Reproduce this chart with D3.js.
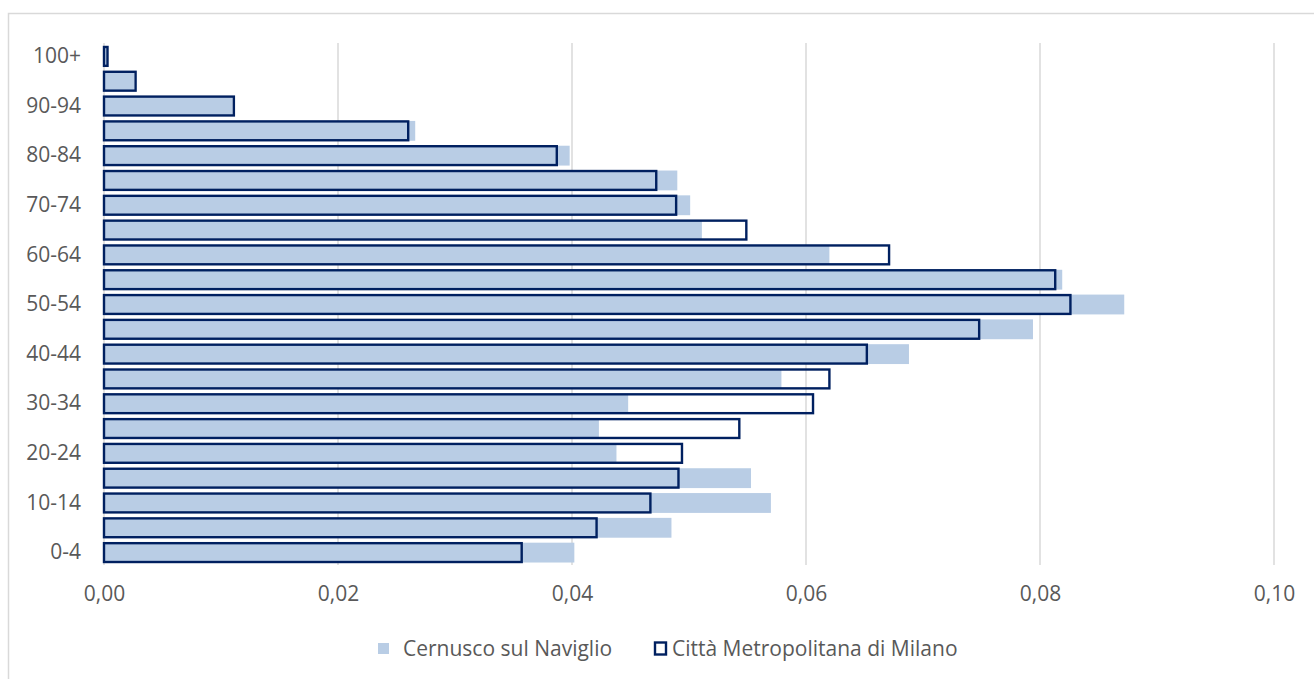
<!DOCTYPE html>
<html>
<head>
<meta charset="utf-8">
<script src="https://cdn.jsdelivr.net/npm/d3@7"></script>
<style>
  html, body { margin: 0; padding: 0; background: #fff; }
  svg { display: block; }
  text { font-family: "Open Sans", sans-serif; fill: #595959; }
</style>
</head>
<body>
<svg id="chart" width="1314" height="679"></svg>
<script>
const categories = ["0-4","5-9","10-14","15-19","20-24","25-29","30-34","35-39","40-44","45-49","50-54","55-59","60-64","65-69","70-74","75-79","80-84","85-89","90-94","95-99","100+"];
const cernusco = [0.0402,0.0485,0.0570,0.0553,0.0438,0.0423,0.0448,0.0579,0.0688,0.0794,0.0872,0.0819,0.0620,0.0511,0.0501,0.0490,0.0398,0.0266,0.0110,0.0026,0.0003];
const milano   = [0.0357,0.0421,0.0467,0.0491,0.0494,0.0543,0.0606,0.0620,0.0652,0.0748,0.0826,0.0813,0.0671,0.0549,0.0489,0.0472,0.0387,0.0260,0.0111,0.0027,0.0003];
const xTicks = [0, 0.02, 0.04, 0.06, 0.08, 0.10];
const seriesNames = ["Cernusco sul Naviglio", "Città Metropolitana di Milano"];

const svg = d3.select("#chart");
const fillColor = "#B9CDE5", strokeColor = "#002060", gridColor = "#D9D9D9";
const fs = "21px";

// outer border
svg.append("rect").attr("x", 8.5).attr("y", 13.5).attr("width", 1310).attr("height", 680)
  .attr("fill", "none").attr("stroke", gridColor).attr("stroke-width", 1.5);

const x = d3.scaleLinear().domain([0, 0.10]).range([104, 1274]);
const y = d3.scaleBand().domain(categories).range([565, 44]).paddingInner(0.2).paddingOuter(0.1);

// gridlines
svg.append("g").selectAll("line").data(xTicks).join("line")
  .attr("x1", d => x(d)).attr("x2", d => x(d))
  .attr("y1", 43).attr("y2", 565)
  .attr("stroke", gridColor).attr("stroke-width", 1.5);

// x axis labels
const xAxis = d3.axisBottom(x).tickValues(xTicks).tickSize(0).tickPadding(0)
  .tickFormat(d => d3.format(".2f")(d).replace(".", ","));
const gx = svg.append("g").attr("transform", "translate(0,586)").call(xAxis);
gx.select(".domain").remove();
gx.selectAll("text").attr("font-size", fs).attr("font-family", "Open Sans").attr("fill", "#595959");

// y axis labels (every other)
const yAxis = d3.axisLeft(y).tickSize(0).tickPadding(0)
  .tickFormat((d, i) => i % 2 === 0 ? d : "");
const gy = svg.append("g").attr("transform", "translate(81,0)").call(yAxis);
gy.select(".domain").remove();
gy.selectAll("text").attr("font-size", fs).attr("font-family", "Open Sans").attr("fill", "#595959");

// Cernusco bars (filled)
svg.append("g").selectAll("rect").data(categories).join("rect")
  .attr("x", x(0)).attr("y", d => y(d))
  .attr("width", (d, i) => x(cernusco[i]) - x(0))
  .attr("height", y.bandwidth())
  .attr("fill", fillColor);

// Milano bars (outline)
svg.append("g").selectAll("rect").data(categories).join("rect")
  .attr("x", x(0)).attr("y", d => y(d) + 0.5)
  .attr("width", (d, i) => x(milano[i]) - x(0))
  .attr("height", y.bandwidth() - 1)
  .attr("fill", "none").attr("stroke", strokeColor).attr("stroke-width", 2.4);

// legend
const lg = svg.append("g");
lg.append("rect").attr("x", 378).attr("y", 643).attr("width", 11).attr("height", 11).attr("fill", fillColor);
lg.append("text").attr("x", 403).attr("y", 656).attr("font-size", fs).text(seriesNames[0]);
lg.append("rect").attr("x", 655).attr("y", 642.5).attr("width", 11).attr("height", 12)
  .attr("fill", "none").attr("stroke", strokeColor).attr("stroke-width", 2.4);
lg.append("text").attr("x", 672).attr("y", 656).attr("font-size", fs).text(seriesNames[1]);
</script>
</body>
</html>
